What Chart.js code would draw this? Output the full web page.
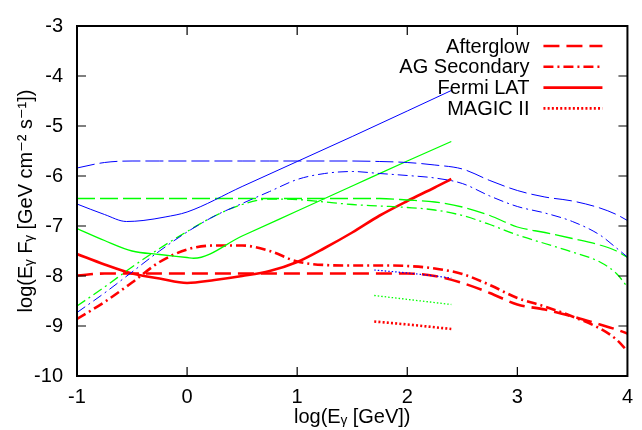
<!DOCTYPE html>
<html>
<head>
<meta charset="utf-8">
<script src="https://cdn.jsdelivr.net/npm/chart.js@4.4.1/dist/chart.umd.min.js"></script>
<style>
  html, body { margin: 0; padding: 0; background: #fff; }
  #wrap { width: 642px; height: 430px; position: relative; }
</style>
</head>
<body>
<div id="wrap"><canvas id="c" width="642" height="430"></canvas></div>
<script>
// ---- Data (log10 E [GeV] vs log10 E*F [GeV cm^-2 s^-1]) ----
const xTicks = [-1, 0, 1, 2, 3, 4];
const yTicks = [-10, -9, -8, -7, -6, -5, -4, -3];

const gridX = [-1, -0.75, -0.5, -0.25, 0, 0.25, 0.5, 0.75, 1, 1.25, 1.5, 1.75, 2, 2.25, 2.5, 2.75, 3, 3.25, 3.5, 3.75, 3.9, 4];

const afterglowBlue  = [-5.84, -5.73, -5.70, -5.70, -5.70, -5.70, -5.70, -5.70, -5.70, -5.70, -5.70, -5.71, -5.73, -5.78, -5.86, -6.09, -6.29, -6.42, -6.50, -6.64, -6.77, -6.89];
const afterglowGreen = [-6.45, -6.45, -6.45, -6.45, -6.45, -6.45, -6.45, -6.45, -6.45, -6.45, -6.45, -6.45, -6.48, -6.52, -6.62, -6.79, -7.02, -7.13, -7.25, -7.38, -7.50, -7.63];
const afterglowRed   = [-7.99, -7.95, -7.95, -7.95, -7.95, -7.95, -7.95, -7.95, -7.95, -7.95, -7.95, -7.95, -7.95, -8.00, -8.14, -8.34, -8.57, -8.67, -8.81, -8.97, -9.07, -9.15];

const secondaryBlue  = [-8.73, -8.34, -7.92, -7.50, -7.12, -6.80, -6.55, -6.31, -6.07, -5.95, -5.91, -5.95, -5.99, -6.04, -6.15, -6.40, -6.61, -6.74, -6.91, -7.18, -7.44, -7.62];
const secondaryGreen = [-8.60, -8.22, -7.82, -7.45, -7.11, -6.80, -6.57, -6.46, -6.47, -6.52, -6.57, -6.60, -6.63, -6.68, -6.79, -6.97, -7.18, -7.35, -7.52, -7.72, -7.95, -8.22];
const secondaryRed   = [-8.86, -8.52, -8.13, -7.72, -7.47, -7.39, -7.39, -7.50, -7.71, -7.78, -7.79, -7.79, -7.80, -7.85, -7.96, -8.18, -8.44, -8.61, -8.81, -9.05, -9.27, -9.50];

const fermiBlueX  = [-1, -0.75, -0.55, -0.4, -0.2, 0, 0.5, 1, 1.5, 2, 2.4];
const fermiBlue   = [-6.56, -6.77, -6.91, -6.89, -6.82, -6.72, -6.21, -5.71, -5.21, -4.70, -4.29];
const fermiGreenX = [-1, -0.75, -0.5, -0.25, 0, 0.06, 0.5, 1, 1.5, 2, 2.4];
const fermiGreen  = [-7.05, -7.29, -7.50, -7.57, -7.63, -7.645, -7.20, -6.70, -6.20, -5.70, -5.31];
const fermiRedX   = [-1, -0.75, -0.5, -0.25, 0, 0.25, 0.5, 0.75, 1, 1.25, 1.5, 1.75, 2, 2.25, 2.4];
const fermiRed    = [-7.56, -7.77, -7.95, -8.05, -8.14, -8.08, -8.00, -7.90, -7.72, -7.44, -7.13, -6.79, -6.50, -6.23, -6.06];

const magicX     = [1.7, 2.05, 2.4];
const magicBlue  = [-7.88, -7.95, -8.04];
const magicGreen = [-8.39, -8.48, -8.57];
const magicRed   = [-8.91, -8.98, -9.06];

const legendLabels = ['Afterglow', 'AG Secondary', 'Fermi LAT', 'MAGIC II'];

// ---- Build ----
const BLUE = '#0000ff', GREEN = '#00ff00', RED = '#ff0000';
const DASH = [18, 5], DASH_THICK = [16, 7];
const DASHDOT = [10, 4, 2, 4], DASHDOT_THICK = [10, 4, 2, 4];
const DOT = [1.5, 2], DOT_THICK = [2, 2.2];

function pts(xs, ys) { return xs.map((x, i) => ({ x: x, y: ys[i] })); }
function ds(label, xs, ys, color, width, dash, legend) {
  return {
    label: label, data: pts(xs, ys), borderColor: color, backgroundColor: color,
    borderWidth: width, borderDash: dash, pointRadius: 0, fill: false,
    cubicInterpolationMode: 'monotone', showInLegend: legend, borderCapStyle: 'butt'
  };
}

const datasets = [
  ds('Afterglow (blue)', gridX, afterglowBlue, BLUE, 1, DASH, false),
  ds('AG Secondary (blue)', gridX, secondaryBlue, BLUE, 1, DASHDOT, false),
  ds('Fermi LAT (blue)', fermiBlueX, fermiBlue, BLUE, 1, [], false),
  ds('MAGIC II (blue)', magicX, magicBlue, BLUE, 1.2, DOT, false),
  ds('Afterglow (green)', gridX, afterglowGreen, GREEN, 1.3, DASH, false),
  ds('AG Secondary (green)', gridX, secondaryGreen, GREEN, 1.3, DASHDOT, false),
  ds('Fermi LAT (green)', fermiGreenX, fermiGreen, GREEN, 1.3, [], false),
  ds('MAGIC II (green)', magicX, magicGreen, GREEN, 1.3, DOT, false),
  ds(legendLabels[0], gridX, afterglowRed, RED, 2.6, DASH_THICK, true),
  ds(legendLabels[1], gridX, secondaryRed, RED, 2.6, DASHDOT_THICK, true),
  ds(legendLabels[2], fermiRedX, fermiRed, RED, 2.6, [], true),
  ds(legendLabels[3], magicX, magicRed, RED, 2.6, DOT_THICK, true)
];

const FONT = "'Liberation Sans', Arial, 'DejaVu Sans', sans-serif";
const FSIZE = 20;

const framePlugin = {
  id: 'frame',
  afterDatasetsDraw(chart) {
    const { ctx, chartArea: a, scales } = chart;
    const sx = scales.x, sy = scales.y;
    const L = 9;
    ctx.save();
    ctx.strokeStyle = '#000';
    ctx.lineWidth = 1.2;
    ctx.setLineDash([]);
    ctx.beginPath();
    sx.ticks.forEach(t => {
      const px = sx.getPixelForValue(t.value);
      if (px > a.left + 2 && px < a.right - 2) {
        ctx.moveTo(px, a.bottom); ctx.lineTo(px, a.bottom - L);
        ctx.moveTo(px, a.top); ctx.lineTo(px, a.top + L);
      }
    });
    sy.ticks.forEach(t => {
      const py = sy.getPixelForValue(t.value);
      if (py > a.top + 2 && py < a.bottom - 2) {
        ctx.moveTo(a.left, py); ctx.lineTo(a.left + L, py);
        ctx.moveTo(a.right, py); ctx.lineTo(a.right - L, py);
      }
    });
    ctx.stroke();
    ctx.lineWidth = 2;
    ctx.strokeRect(a.left, a.top, a.right - a.left, a.bottom - a.top);

    // legend (text right, sample line to its right)
    const items = chart.data.datasets.filter(d => d.showInLegend);
    ctx.font = FSIZE + 'px ' + FONT;
    ctx.fillStyle = '#000';
    ctx.textAlign = 'right';
    ctx.textBaseline = 'middle';
    items.forEach((d, i) => {
      const yy = a.top + 20 + i * 20.8;
      ctx.fillText(d.label, a.right - 98, yy + 1);
      ctx.save();
      ctx.strokeStyle = d.borderColor;
      ctx.lineWidth = d.borderWidth;
      ctx.setLineDash(d.borderDash);
      ctx.beginPath();
      ctx.moveTo(a.right - 84, yy);
      ctx.lineTo(a.right - 25, yy);
      ctx.stroke();
      ctx.restore();
    });
    ctx.restore();
  }
};

new Chart(document.getElementById('c'), {
  type: 'line',
  data: { datasets: datasets },
  plugins: [framePlugin],
  options: {
    responsive: false,
    animation: false,
    devicePixelRatio: 1,
    layout: { padding: { left: 0, right: 14, top: 13, bottom: 0 } },
    plugins: { legend: { display: false }, tooltip: { enabled: false } },
    scales: {
      x: {
        type: 'linear', min: -1, max: 4,
        afterBuildTicks: s => { s.ticks = xTicks.map(v => ({ value: v })); },
        afterFit: s => { s.height = 54; },
        grid: { display: false, drawTicks: false },
        border: { display: false },
        ticks: { color: '#000', font: { family: FONT, size: FSIZE }, padding: 9, maxRotation: 0 },
        title: { display: true, text: 'log(Eᵧ [GeV])', color: '#000', font: { family: FONT, size: FSIZE }, padding: { top: 0, bottom: 1 } }
      },
      y: {
        type: 'linear', min: -10, max: -3,
        afterBuildTicks: s => { s.ticks = yTicks.map(v => ({ value: v })); },
        afterFit: s => { s.width = 77; },
        grid: { display: false, drawTicks: false },
        border: { display: false },
        ticks: { color: '#000', font: { family: FONT, size: FSIZE }, padding: 14 },
        title: { display: true, text: 'log(Eᵧ Fᵧ [GeV cm⁻² s⁻¹])', color: '#000', font: { family: FONT, size: FSIZE }, padding: { top: 14, bottom: 0 } }
      }
    }
  }
});
</script>
</body>
</html>
